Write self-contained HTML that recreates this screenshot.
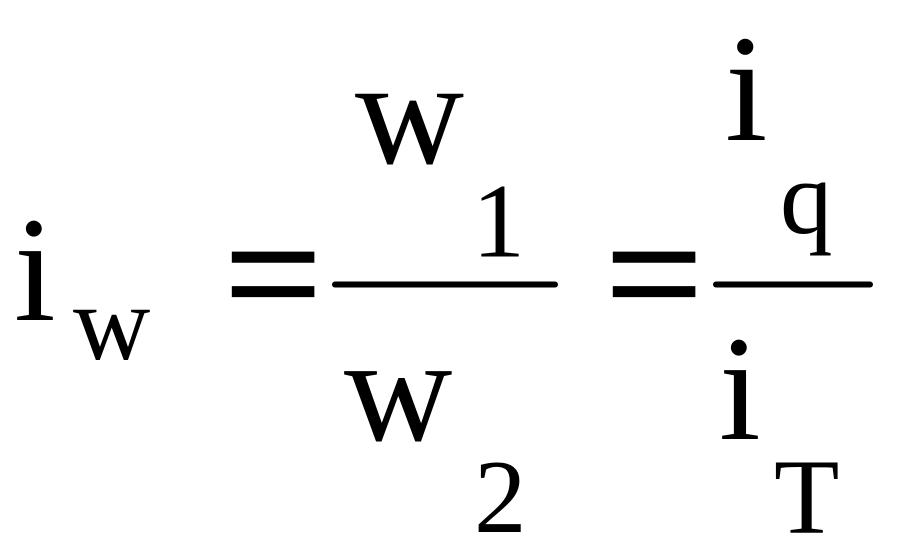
<!DOCTYPE html>
<html><head><meta charset="utf-8"><style>
html,body{margin:0;padding:0;background:#fff;width:899px;height:556px;overflow:hidden}
svg{display:block}
text{font-family:"Liberation Serif",serif;fill:#000}
.eq{stroke:#000;stroke-width:2.5}
</style></head><body>
<svg width="899" height="556" viewBox="0 0 899 556" xmlns="http://www.w3.org/2000/svg">
<text x="14" y="320" font-size="150">i</text>
<text x="73" y="359" font-size="107">w</text>
<text class="eq" x="224.5" y="331.5" font-size="172">=</text>
<text x="355" y="163" font-size="151">w</text>
<text x="472" y="256.5" font-size="106">1</text>
<rect x="332" y="281.5" width="226" height="6" rx="3"/>
<text class="eq" x="605.5" y="331.5" font-size="172">=</text>
<text x="725" y="140" font-size="153">i</text>
<text x="780" y="233" font-size="105">q</text>
<rect x="713" y="281.5" width="160" height="6" rx="3"/>
<text x="344" y="440" font-size="150">w</text>
<text x="474" y="532" font-size="105">2</text>
<text x="719" y="439" font-size="150">i</text>
<text x="774" y="532.5" font-size="107">T</text>
</svg>
</body></html>
